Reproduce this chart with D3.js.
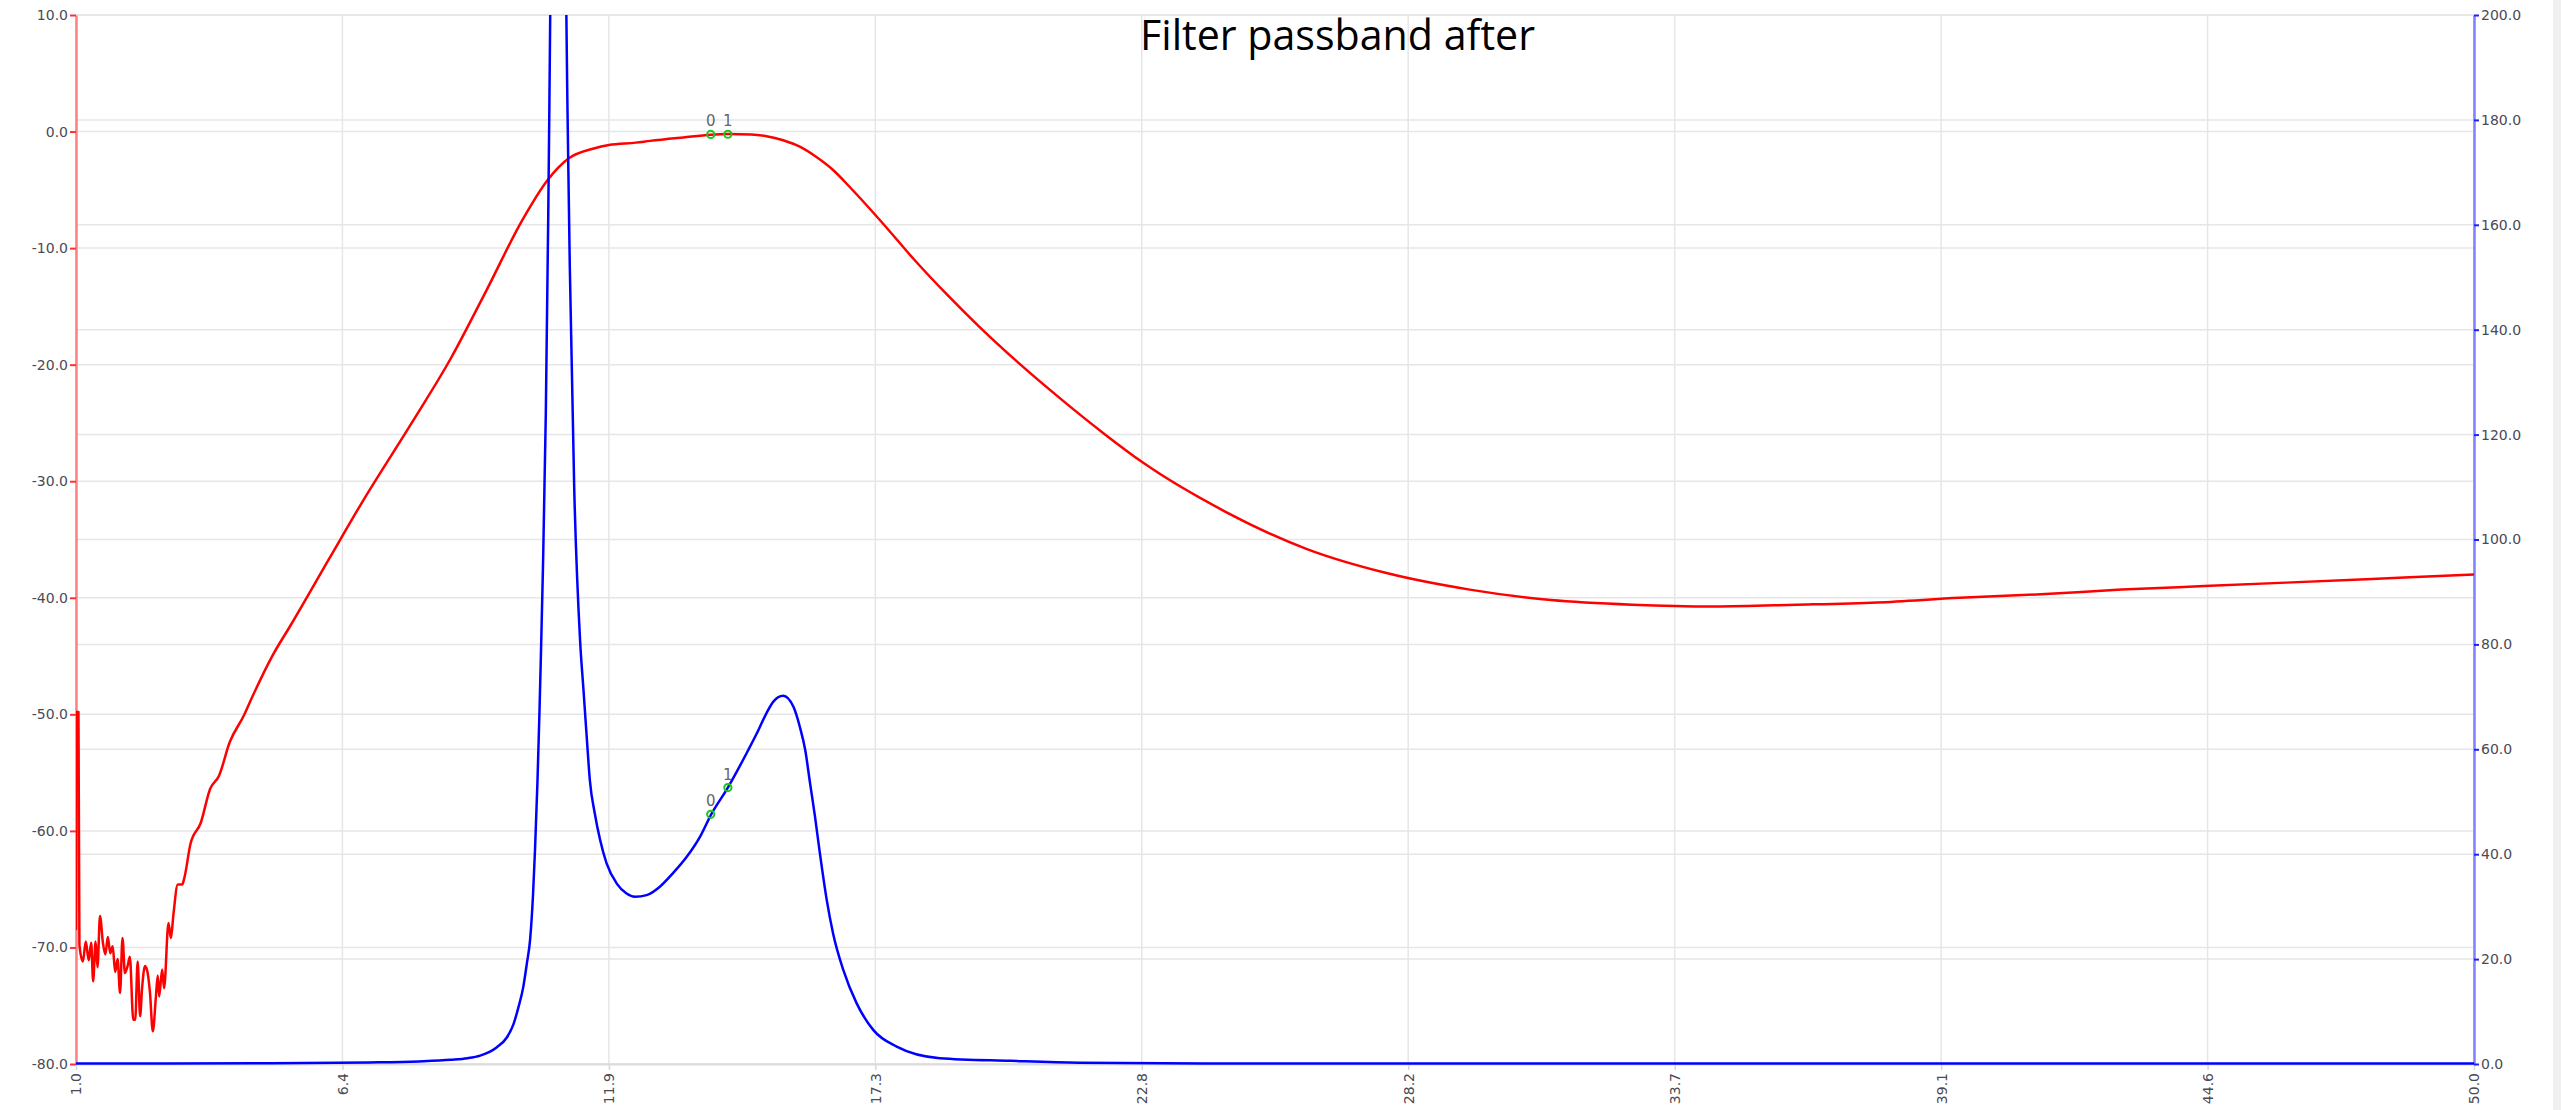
<!DOCTYPE html>
<html>
<head>
<meta charset="utf-8">
<script src="https://cdn.jsdelivr.net/npm/d3@7"></script>
<style>
  html, body { margin: 0; padding: 0; background: #fff; overflow: hidden; }
  svg { display: block; }
</style>
</head>
<body>
<script>
// ---------------- data ----------------
const titleText = "Filter passband after";

const xTickValues = [1.0, 6.444, 11.889, 17.333, 22.778, 28.222, 33.667, 39.111, 44.556, 50.0];
const leftTickValues = [-80, -70, -60, -50, -40, -30, -20, -10, 0, 10];
const rightTickValues = [0, 20, 40, 60, 80, 100, 120, 140, 160, 180, 200];

// red curve: gain (dB, left axis)
const redFreq = [1.00, 1.01, 1.05, 1.07, 1.14, 1.20, 1.26, 1.31, 1.35, 1.40, 1.44, 1.49, 1.55, 1.60, 1.65, 1.70, 1.75, 1.80, 1.85, 1.90,
  1.95, 2.00, 2.06, 2.10, 2.17, 2.21, 2.26, 2.31, 2.35, 2.41, 2.46, 2.51, 2.57, 2.63, 2.67, 2.70, 2.76, 2.80, 2.89, 2.94,
  2.99, 3.08, 3.17, 3.21, 3.34, 3.55, 3.74, 3.92, 4.14, 4.43, 4.58, 5.01, 5.38, 6.18, 6.84, 7.86, 8.66, 9.39, 10.12, 10.63,
  11.07, 11.58, 11.89, 12.44, 12.73, 13.41, 13.97, 14.32, 14.80, 15.11, 15.45, 15.79, 16.10, 16.47, 16.82, 17.47, 18.13, 18.80, 19.47, 20.30,
  21.14, 22.00, 22.80, 24.48, 26.14, 27.80, 29.48, 31.14, 32.80, 34.47, 36.15, 37.80, 39.49, 41.15, 42.80, 44.49, 46.16, 47.80, 50.00];
const redGain = [-68.5, -49.8, -49.8, -69.8, -71.2, -69.5, -71.1, -69.6, -72.9, -69.5, -71.7, -67.3, -69.6, -70.6, -69.1, -70.5, -69.9, -72.1, -71.0, -73.9,
  -69.2, -72.2, -71.5, -70.8, -76.2, -76.2, -71.2, -75.9, -73.5, -71.6, -72.1, -73.8, -77.2, -74.4, -72.4, -74.2, -71.9, -73.5, -67.9, -69.2,
  -67.2, -64.6, -64.6, -64.1, -61.1, -59.3, -56.4, -55.3, -52.4, -50.1, -48.7, -45.0, -42.4, -36.6, -31.85, -25.0, -19.45, -13.6, -7.6, -4.2,
  -2.3, -1.45, -1.15, -0.95, -0.80, -0.50, -0.27, -0.22, -0.25, -0.40, -0.75, -1.3, -2.1, -3.3, -4.8, -7.8, -11.0, -14.0, -16.8, -20.0,
  -23.0, -25.9, -28.4, -32.6, -35.8, -37.9, -39.3, -40.2, -40.6, -40.75, -40.6, -40.4, -40.0, -39.7, -39.3, -39.0, -38.7, -38.4, -38.0];

// blue curve: amplitude (right axis)
const blueFreq = [1.0, 5.0, 7.0, 8.0, 8.66, 9.00, 9.26, 9.45, 9.60, 9.80, 9.94, 10.04, 10.14, 10.21, 10.28, 10.34, 10.38, 10.43, 10.47, 10.50,
  10.54, 10.60, 10.65, 10.67, 10.69, 10.75, 10.86, 10.96, 11.02, 11.04, 11.07, 11.09, 11.18, 11.30, 11.37, 11.44, 11.50, 11.60,
  11.71, 11.84, 12.05, 12.25, 12.42, 12.66, 12.93, 13.20, 13.48, 13.75, 13.98, 14.32, 14.70, 14.91, 15.11, 15.25, 15.45, 15.66,
  15.79, 15.90, 16.00, 16.10, 16.20, 16.34, 16.47, 16.68, 16.95, 17.29, 17.77, 18.65, 20.1, 21.5, 25.0, 50.0];
const blueAmp = [0.1, 0.15, 0.3, 0.5, 0.8, 1.1, 1.6, 2.3, 3.2, 5.0, 7.6, 10.8, 14.7, 19.0, 23.8, 32.5, 41.0, 54.0, 67.0, 78.0,
  94.0, 124.0, 162.0, 180.0, 200, 290, 340, 290, 200, 184, 164.7, 152.1, 109.9, 80.8, 71.3, 61.8, 54.1, 47.8,
  42.7, 38.3, 34.4, 32.5, 31.9, 32.2, 33.8, 36.4, 39.5, 43.3, 47.6, 52.7, 59.2, 63.0, 66.9, 69.1, 70.2, 68.1,
  64.3, 59.9, 53.5, 47.2, 40.2, 31.3, 24.9, 17.9, 11.6, 6.5, 3.3, 1.1, 0.6, 0.25, 0.1, 0.1];

// cursor markers
const markerLabels = ["0", "1"];
const markerFreq = [13.97, 14.32];
const markerGain = [-0.25, -0.23];
const markerAmp = [47.6, 52.7];

// ---------------- layout ----------------
const W = 2561, H = 1110;
const L = 76, R = 2474, T = 15, B = 1064;

const svg = d3.select("body").append("svg").attr("width", W).attr("height", H);
svg.append("rect").attr("width", W).attr("height", H).attr("fill", "#fff");
svg.append("rect").attr("x", 2553).attr("y", 0).attr("width", 8).attr("height", H).attr("fill", "#f0f0f0");

const x = d3.scaleLinear().domain([1, 50]).range([L, R]);
const yL = d3.scaleLinear().domain([-80, 10]).range([B, T]);
const yR = d3.scaleLinear().domain([0, 200]).range([B, T]);

svg.append("defs").append("clipPath").attr("id", "plotclip")
  .append("rect").attr("x", L).attr("y", T).attr("width", R - L).attr("height", B - T + 2);

// grid
const grid = svg.append("g").attr("stroke", "#e6e6e6").attr("stroke-width", 1.5);
grid.selectAll(".gl").data(leftTickValues).join("line").attr("class", "gl")
  .attr("x1", L).attr("x2", R).attr("y1", d => yL(d)).attr("y2", d => yL(d));
grid.selectAll(".gr").data(rightTickValues).join("line").attr("class", "gr")
  .attr("x1", L).attr("x2", R).attr("y1", d => yR(d)).attr("y2", d => yR(d));
grid.selectAll(".gv").data(xTickValues).join("line").attr("class", "gv")
  .attr("x1", d => x(d)).attr("x2", d => x(d)).attr("y1", T).attr("y2", B);

// title
svg.append("text").attr("x", 1140).attr("y", 50)
  .attr("font-family", "'Open Sans', sans-serif").attr("font-size", 42)
  .attr("fill", "#000").attr("textLength", 395).attr("lengthAdjust", "spacingAndGlyphs")
  .text(titleText);

const fmt = d => d.toFixed(1);
const tickFont = "'DejaVu Sans', Verdana, sans-serif";
const tickColor = "#4a4a55";

// bottom axis
const gx = svg.append("g").attr("transform", `translate(0,${B})`)
  .call(d3.axisBottom(x).tickValues(xTickValues).tickFormat(fmt).tickSize(6).tickSizeOuter(0));
gx.select(".domain").attr("stroke", "#dcdcdc").attr("stroke-width", 2);
gx.selectAll(".tick line").attr("stroke", "#d8d8d8").attr("stroke-width", 1.5);
gx.selectAll(".tick text")
  .attr("transform", "rotate(-90)")
  .attr("text-anchor", "end").attr("x", -9).attr("y", 0).attr("dy", "0.35em")
  .attr("font-family", tickFont).attr("font-size", 14).attr("fill", tickColor);

// left axis
const gl = svg.append("g").attr("transform", `translate(${L},0)`)
  .call(d3.axisLeft(yL).tickValues(leftTickValues).tickFormat(fmt).tickSize(6).tickPadding(2).tickSizeOuter(0));
gl.select(".domain").attr("stroke", "#ff8080").attr("stroke-width", 2.5);
gl.selectAll(".tick line").attr("stroke", "#ff3030").attr("stroke-width", 2);
gl.selectAll(".tick text").attr("font-family", tickFont).attr("font-size", 14).attr("fill", tickColor);

// right axis
const gr = svg.append("g").attr("transform", `translate(${R},0)`)
  .call(d3.axisRight(yR).tickValues(rightTickValues).tickFormat(fmt).tickSize(5).tickPadding(2).tickSizeOuter(0));
gr.select(".domain").attr("stroke", "#8080ff").attr("stroke-width", 2.5);
gr.selectAll(".tick line").attr("stroke", "#2020ff").attr("stroke-width", 2);
gr.selectAll(".tick text").attr("font-family", tickFont).attr("font-size", 14).attr("fill", tickColor);

// curves
const plot = svg.append("g").attr("clip-path", "url(#plotclip)");
const redData = redFreq.map((f, i) => [f, redGain[i]]);
const blueData = blueFreq.map((f, i) => [f, blueAmp[i]]);

plot.append("path").datum(redData)
  .attr("fill", "none").attr("stroke", "#ff0000").attr("stroke-width", 2.5).attr("stroke-linejoin", "round")
  .attr("d", d3.line().x(d => x(d[0])).y(d => yL(d[1])).curve(d3.curveMonotoneX));

plot.append("path").datum(blueData)
  .attr("fill", "none").attr("stroke", "#0000ff").attr("stroke-width", 2.5).attr("stroke-linejoin", "round")
  .attr("d", d3.line().x(d => x(d[0])).y(d => yR(d[1])).curve(d3.curveMonotoneX));

// markers
const mk = svg.append("g");
const redMarks = markerFreq.map((f, i) => ({ f, v: markerGain[i], label: markerLabels[i], y: yL }));
const blueMarks = markerFreq.map((f, i) => ({ f, v: markerAmp[i], label: markerLabels[i], y: yR }));
const allMarks = redMarks.concat(blueMarks);
mk.selectAll("circle").data(allMarks).join("circle")
  .attr("cx", d => x(d.f)).attr("cy", d => d.y(d.v)).attr("r", 3.6)
  .attr("fill", "none").attr("stroke", "#1ec31e").attr("stroke-width", 2);
mk.selectAll("text").data(allMarks).join("text")
  .attr("x", d => x(d.f)).attr("y", d => d.y(d.v) - 8)
  .attr("text-anchor", "middle").attr("font-family", tickFont).attr("font-size", 15).attr("fill", "#666")
  .text(d => d.label);
</script>
</body>
</html>
